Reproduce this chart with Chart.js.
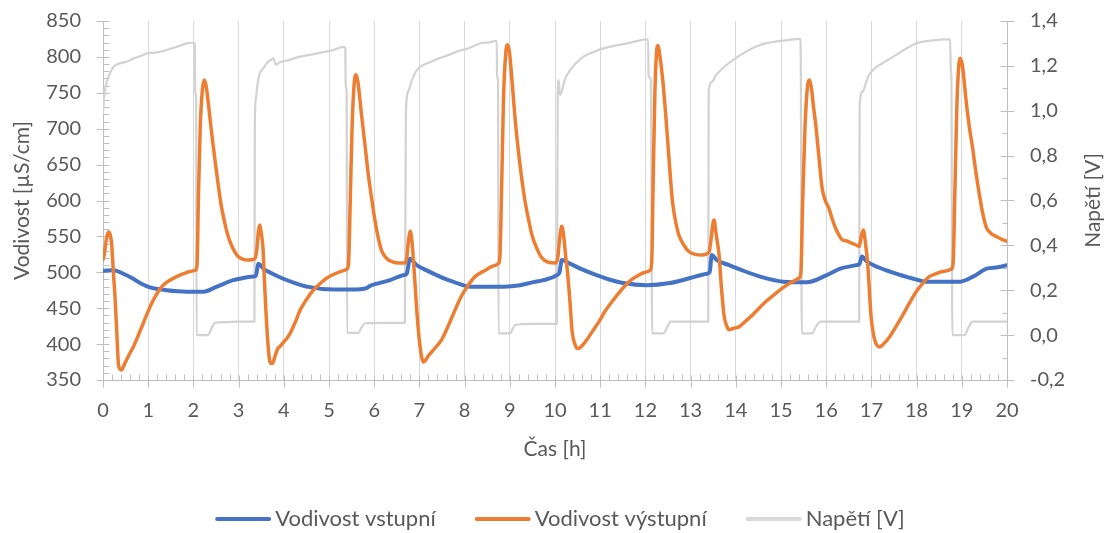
<!DOCTYPE html>
<html>
<head>
<meta charset="utf-8">
<script src="https://cdn.jsdelivr.net/npm/chart.js@4.4.1/dist/chart.umd.min.js"></script>
<style>
  html, body { margin: 0; padding: 0; background: #fff; }
  canvas { display: block; }
</style>
</head>
<body>
<canvas id="chart" width="1110" height="533"></canvas>
<script>
// Inlet conductivity [µS/cm] over time [h]
const inletHours = [0.00, 0.23, 0.45, 0.67, 0.85, 1.04, 1.41, 1.85, 2.22, 2.52, 2.88, 3.10, 3.33, 3.38, 3.44, 3.55, 3.75, 3.99, 4.25, 4.51, 5.10, 5.50, 5.83, 5.91, 6.35, 6.64, 6.72, 6.79, 6.94, 7.15, 7.38, 7.60, 7.83, 8.12, 8.86, 9.23, 9.50, 9.74, 10.04, 10.10, 10.15, 10.33, 10.60, 10.92, 11.20, 11.51, 12.03, 12.54, 12.99, 13.36, 13.42, 13.47, 13.58, 13.85, 14.09, 14.54, 15.05, 15.57, 16.01, 16.31, 16.67, 16.74, 16.79, 16.90, 17.15, 17.41, 17.93, 18.22, 18.96, 19.25, 19.55, 19.80, 20.00];
const inletValues = [502, 503, 498, 491, 484, 479, 475, 473, 473, 480, 489, 492, 494, 495, 512, 505, 498, 491, 485, 480, 476, 476, 478, 481, 489, 496, 498, 519, 510, 503, 496, 490, 485, 480, 480, 482, 486, 489, 496, 500, 517, 512, 504, 496, 490, 485, 482, 485, 492, 498, 500, 524, 517, 510, 504, 494, 487, 486, 496, 505, 510, 512, 522, 515, 507, 501, 491, 487, 487, 494, 505, 507, 510];

// Outlet conductivity [µS/cm] over time [h]
const outletHours = [0.00, 0.02, 0.08, 0.12, 0.16, 0.19, 0.23, 0.27, 0.31, 0.34, 0.38, 0.41, 0.46, 0.52, 0.60, 0.67, 0.78, 0.89, 1.00, 1.11, 1.22, 1.33, 1.48, 1.63, 1.78, 1.92, 2.05, 2.08, 2.11, 2.15, 2.20, 2.24, 2.28, 2.34, 2.40, 2.47, 2.54, 2.61, 2.69, 2.76, 2.84, 2.92, 2.99, 3.10, 3.21, 3.36, 3.40, 3.44, 3.47, 3.50, 3.54, 3.57, 3.61, 3.65, 3.69, 3.73, 3.76, 3.81, 3.87, 3.92, 4.00, 4.09, 4.14, 4.25, 4.36, 4.50, 4.65, 4.80, 4.95, 5.10, 5.25, 5.39, 5.43, 5.47, 5.51, 5.56, 5.60, 5.64, 5.72, 5.80, 5.87, 5.95, 6.02, 6.10, 6.17, 6.28, 6.39, 6.55, 6.68, 6.72, 6.76, 6.80, 6.84, 6.90, 6.95, 7.01, 7.05, 7.09, 7.14, 7.20, 7.27, 7.38, 7.49, 7.60, 7.71, 7.82, 7.94, 8.08, 8.23, 8.46, 8.60, 8.75, 8.78, 8.82, 8.86, 8.91, 8.95, 8.99, 9.05, 9.12, 9.20, 9.27, 9.34, 9.42, 9.49, 9.60, 9.71, 9.85, 10.01, 10.06, 10.10, 10.15, 10.19, 10.24, 10.27, 10.33, 10.38, 10.44, 10.49, 10.55, 10.67, 10.82, 10.97, 11.11, 11.26, 11.41, 11.56, 11.70, 11.85, 12.00, 12.11, 12.14, 12.17, 12.21, 12.25, 12.28, 12.31, 12.38, 12.45, 12.52, 12.60, 12.67, 12.74, 12.85, 12.96, 13.10, 13.25, 13.41, 13.45, 13.50, 13.52, 13.56, 13.63, 13.68, 13.74, 13.80, 13.85, 13.95, 14.07, 14.20, 14.36, 14.50, 14.66, 14.85, 15.03, 15.20, 15.40, 15.44, 15.48, 15.53, 15.58, 15.63, 15.67, 15.72, 15.77, 15.84, 15.91, 15.98, 16.06, 16.13, 16.21, 16.29, 16.36, 16.44, 16.55, 16.66, 16.73, 16.77, 16.82, 16.86, 16.92, 16.99, 17.05, 17.10, 17.18, 17.28, 17.40, 17.55, 17.69, 17.84, 17.99, 18.14, 18.28, 18.43, 18.58, 18.78, 18.81, 18.85, 18.89, 18.93, 18.97, 19.02, 19.09, 19.16, 19.24, 19.31, 19.39, 19.46, 19.54, 19.65, 19.76, 19.88, 20.00];
const outletValues = [518, 522, 548, 556, 552, 540, 500, 461, 410, 373, 365, 364, 370, 378, 388, 396, 412, 429, 446, 461, 473, 482, 489, 494, 498, 501, 503, 510, 600, 700, 755, 768, 760, 730, 696, 660, 626, 595, 570, 552, 538, 528, 522, 518, 517, 519, 530, 558, 566, 555, 533, 490, 440, 400, 376, 373, 374, 384, 394, 397, 403, 410, 415, 430, 447, 462, 475, 484, 492, 497, 501, 504, 510, 600, 700, 765, 775, 765, 719, 675, 636, 600, 571, 545, 529, 519, 515, 513, 513, 520, 545, 557, 540, 487, 440, 399, 382, 375, 378, 384, 389, 397, 406, 420, 436, 452, 468, 482, 494, 503, 508, 512, 520, 620, 740, 805, 817, 808, 766, 712, 663, 628, 598, 572, 552, 533, 520, 514, 513, 520, 545, 564, 552, 520, 505, 460, 417, 400, 394, 395, 403, 417, 431, 446, 459, 471, 482, 490, 496, 500, 503, 515, 620, 750, 808, 816, 806, 770, 719, 660, 598, 570, 552, 538, 529, 525, 524, 528, 545, 570, 573, 555, 524, 480, 440, 425, 420, 422, 424, 431, 440, 449, 459, 469, 478, 485, 492, 500, 600, 700, 755, 768, 758, 730, 705, 660, 617, 600, 589, 575, 561, 551, 545, 544, 541, 538, 536, 548, 559, 545, 510, 440, 412, 401, 396, 401, 410, 425, 440, 457, 473, 485, 494, 498, 501, 505, 515, 620, 730, 785, 798, 785, 742, 705, 673, 640, 608, 583, 563, 554, 550, 546, 543];

// Cell voltage [V] over time [h]
const voltageHours = [0.00, 0.02, 0.05, 0.10, 0.16, 0.23, 0.35, 0.52, 0.70, 0.85, 0.97, 1.10, 1.25, 1.41, 1.55, 1.70, 1.85, 1.95, 2.03, 2.04, 2.06, 2.07, 2.32, 2.40, 2.47, 2.70, 3.00, 3.35, 3.36, 3.38, 3.42, 3.47, 3.55, 3.62, 3.70, 3.77, 3.82, 3.90, 4.10, 4.36, 4.60, 4.85, 5.10, 5.32, 5.36, 5.37, 5.39, 5.40, 5.65, 5.72, 5.80, 6.20, 6.68, 6.70, 6.75, 6.86, 6.98, 7.10, 7.27, 7.45, 7.64, 7.85, 8.08, 8.34, 8.55, 8.71, 8.72, 8.74, 8.75, 9.01, 9.07, 9.12, 9.50, 10.04, 10.06, 10.08, 10.11, 10.14, 10.22, 10.33, 10.48, 10.63, 10.85, 11.07, 11.33, 11.59, 11.80, 12.03, 12.06, 12.07, 12.12, 12.15, 12.40, 12.48, 12.56, 13.00, 13.39, 13.40, 13.48, 13.55, 13.63, 13.80, 14.00, 14.20, 14.44, 14.65, 14.88, 15.15, 15.40, 15.43, 15.44, 15.46, 15.69, 15.78, 15.88, 16.30, 16.73, 16.74, 16.81, 16.88, 16.95, 17.05, 17.18, 17.35, 17.54, 17.75, 17.99, 18.20, 18.43, 18.60, 18.74, 18.76, 18.77, 18.79, 19.06, 19.15, 19.24, 19.60, 20.00];
const voltageValues = [0.99, 1.05, 1.10, 1.14, 1.17, 1.195, 1.21, 1.218, 1.235, 1.245, 1.256, 1.258, 1.262, 1.271, 1.28, 1.29, 1.30, 1.303, 1.30, 1.08, 1.06, 0.0, 0.0, 0.03, 0.055, 0.058, 0.06, 0.06, 0.95, 1.05, 1.12, 1.167, 1.19, 1.211, 1.225, 1.234, 1.205, 1.215, 1.225, 1.241, 1.25, 1.26, 1.271, 1.285, 1.28, 1.107, 1.09, 0.01, 0.01, 0.035, 0.053, 0.055, 0.055, 0.98, 1.085, 1.15, 1.19, 1.205, 1.219, 1.235, 1.248, 1.265, 1.278, 1.30, 1.305, 1.312, 1.152, 1.13, 0.008, 0.008, 0.03, 0.045, 0.05, 0.05, 1.063, 1.137, 1.07, 1.08, 1.14, 1.18, 1.215, 1.241, 1.262, 1.278, 1.29, 1.30, 1.31, 1.318, 1.318, 1.152, 1.14, 0.008, 0.008, 0.035, 0.06, 0.06, 0.06, 1.085, 1.13, 1.155, 1.174, 1.205, 1.234, 1.26, 1.285, 1.30, 1.308, 1.315, 1.32, 1.32, 1.13, 0.008, 0.008, 0.04, 0.06, 0.06, 0.06, 1.026, 1.085, 1.125, 1.16, 1.185, 1.204, 1.225, 1.248, 1.275, 1.30, 1.31, 1.315, 1.318, 1.318, 1.174, 1.15, 0.0, 0.0, 0.035, 0.06, 0.06, 0.06];

// Axis tick values
const hourTicks = [0, 1, 2, 3, 4, 5, 6, 7, 8, 9, 10, 11, 12, 13, 14, 15, 16, 17, 18, 19, 20];
const conductivityTicks = [350, 400, 450, 500, 550, 600, 650, 700, 750, 800, 850];
const voltageTicks = [-0.2, 0, 0.2, 0.4, 0.6, 0.8, 1.0, 1.2, 1.4];

const seriesNames = ['Vodivost vstupní', 'Vodivost výstupní', 'Napětí [V]'];
const titleX = 'Čas [h]';
const titleLeft = 'Vodivost [µS/cm]';
const titleRight = 'Napětí [V]';

const FONT = 'Lato, "Open Sans", sans-serif';
const TEXT = '#595959';
const AXIS = '#bfbfbf';
const GRID = '#d9d9d9';

// plot area edges on the 1110x533 canvas
const PLOT = { left: 103, right: 1007, top: 21, bottom: 380 };

const toPoints = (xs, ys) => xs.map((x, i) => ({ x, y: ys[i] }));
const setTicks = (values) => (scale) => { scale.ticks = values.map(v => ({ value: v })); };

// Axis lines with major/minor tick marks
const axisMarks = {
  id: 'axisMarks',
  beforeDatasetsDraw(chart) {
    const { ctx, chartArea: a, scales } = chart;
    const X = scales.x, L = scales.y, R = scales.y1;
    const al = v => Math.round(v) + 0.5;
    const seg = (x1, y1, x2, y2) => { ctx.beginPath(); ctx.moveTo(x1, y1); ctx.lineTo(x2, y2); ctx.stroke(); };
    ctx.save();
    ctx.strokeStyle = AXIS;
    ctx.lineWidth = 1;
    const xl = al(a.left), xr = al(a.right), yb = al(a.bottom), yt = Math.round(a.top);
    seg(xl, yt, xl, yb);
    seg(xr, yt, xr, yb);
    seg(xl, yb, xr, yb);

    for (let i = 0; i < hourTicks.length - 1; i++) {
      const step = (hourTicks[i + 1] - hourTicks[i]) / 5;
      for (let k = 1; k < 5; k++) {
        const p = al(X.getPixelForValue(hourTicks[i] + k * step));
        seg(p, yb - 6, p, yb);
      }
    }
    hourTicks.forEach(v => { const p = al(X.getPixelForValue(v)); seg(p, yb - 5, p, yb + 7); });

    for (let i = 0; i < conductivityTicks.length - 1; i++) {
      const step = (conductivityTicks[i + 1] - conductivityTicks[i]) / 5;
      for (let k = 1; k < 5; k++) {
        const p = al(L.getPixelForValue(conductivityTicks[i] + k * step));
        seg(xl, p, xl + 6, p);
      }
    }
    conductivityTicks.forEach(v => { const p = al(L.getPixelForValue(v)); seg(xl - 7, p, xl + 6, p); });

    for (let i = 0; i < voltageTicks.length - 1; i++) {
      const p = al(R.getPixelForValue((voltageTicks[i] + voltageTicks[i + 1]) / 2));
      seg(xr - 5, p, xr, p);
    }
    voltageTicks.forEach(v => { const p = al(R.getPixelForValue(v)); seg(xr - 7, p, xr + 7, p); });
    ctx.restore();
  }
};

// Axis titles and the legend row
const labelsAndLegend = {
  id: 'labelsAndLegend',
  afterDraw(chart) {
    const { ctx, chartArea: a } = chart;
    ctx.save();
    ctx.fillStyle = TEXT;
    ctx.font = '21px ' + FONT;
    ctx.textAlign = 'center';
    ctx.textBaseline = 'middle';
    ctx.fillText(titleX, (a.left + a.right) / 2, 449);

    const midY = (a.top + a.bottom) / 2;
    [[titleLeft, 22], [titleRight, 1093]].forEach(([t, x]) => {
      ctx.save();
      ctx.translate(x, midY);
      ctx.rotate(-Math.PI / 2);
      ctx.fillText(t, 0, 0);
      ctx.restore();
    });

    ctx.font = '22px ' + FONT;
    ctx.textAlign = 'left';
    const lineLen = 56, lineGap = 4, itemGap = 39, y = 519;
    const items = chart.data.datasets.map(ds => ({
      text: ds.label, color: ds.legendColor || ds.borderColor, width: ctx.measureText(ds.label).width
    }));
    const total = items.reduce((s, it) => s + lineLen + lineGap + it.width, 0) + itemGap * (items.length - 1);
    let x = 560 - total / 2;
    items.forEach(it => {
      ctx.strokeStyle = it.color;
      ctx.lineWidth = 4;
      ctx.lineCap = 'round';
      ctx.beginPath();
      ctx.moveTo(x + 2, y);
      ctx.lineTo(x + lineLen - 2, y);
      ctx.stroke();
      ctx.fillStyle = TEXT;
      ctx.fillText(it.text, x + lineLen + lineGap, y);
      x += lineLen + lineGap + it.width + itemGap;
    });
    ctx.restore();
  }
};

// Pin the chart area to fixed edges after Chart.js has laid out the boxes
const pinArea = {
  id: 'pinArea',
  afterLayout(chart) {
    const a = chart.chartArea;
    Object.assign(a, PLOT, { width: PLOT.right - PLOT.left, height: PLOT.bottom - PLOT.top });
    const { x, y, y1 } = chart.scales;
    [x, y, y1].forEach(s => {
      if (s.isHorizontal()) { s.left = PLOT.left; s.right = PLOT.right; s.width = PLOT.right - PLOT.left; }
      else { s.top = PLOT.top; s.bottom = PLOT.bottom; s.height = PLOT.bottom - PLOT.top; }
      s.configure();
    });
  }
};

new Chart(document.getElementById('chart'), {
  type: 'line',
  data: {
    datasets: [
      {
        label: seriesNames[0],
        data: toPoints(inletHours, inletValues),
        borderColor: '#4472C4',
        borderWidth: 4,
        yAxisID: 'y',
        order: 1
      },
      {
        label: seriesNames[1],
        data: toPoints(outletHours, outletValues),
        borderColor: '#ED7D31',
        borderWidth: 3.5,
        yAxisID: 'y',
        order: 0
      },
      {
        label: seriesNames[2],
        data: toPoints(voltageHours, voltageValues),
        borderColor: '#d2d2d2',
        legendColor: '#d9d9d9',
        borderWidth: 2.2,
        yAxisID: 'y1',
        order: 2
      }
    ]
  },
  options: {
    responsive: false,
    animation: false,
    events: [],
    layout: { padding: { top: 7, left: 0, right: 0, bottom: 0 } },
    elements: {
      point: { radius: 0 },
      line: { cubicInterpolationMode: 'monotone', borderJoinStyle: 'round', borderCapStyle: 'round' }
    },
    plugins: { legend: { display: false }, tooltip: { enabled: false } },
    scales: {
      x: {
        type: 'linear',
        min: 0,
        max: 20,
        afterBuildTicks: setTicks(hourTicks),
        afterFit: s => { s.height = 533 - 380; },
        grid: { color: GRID, lineWidth: 1, drawTicks: false, tickLength: 0 },
        border: { display: false },
        ticks: { color: TEXT, font: { family: FONT, size: 20 }, padding: 19, maxRotation: 0, autoSkip: false }
      },
      y: {
        position: 'left',
        min: 350,
        max: 850,
        afterBuildTicks: setTicks(conductivityTicks),
        afterFit: s => { s.width = 103; },
        grid: { display: false, drawTicks: false, tickLength: 0 },
        border: { display: false },
        ticks: { color: TEXT, font: { family: FONT, size: 20 }, padding: 22, autoSkip: false }
      },
      y1: {
        position: 'right',
        min: -0.2,
        max: 1.4,
        afterBuildTicks: setTicks(voltageTicks),
        afterFit: s => { s.width = 1110 - 1007; },
        grid: { display: false, drawTicks: false, tickLength: 0 },
        border: { display: false },
        ticks: {
          color: TEXT,
          font: { family: FONT, size: 20 },
          padding: 23,
          autoSkip: false,
          callback: v => v.toFixed(1).replace('.', ',')
        }
      }
    }
  },
  plugins: [pinArea, axisMarks, labelsAndLegend]
});
</script>
</body>
</html>
